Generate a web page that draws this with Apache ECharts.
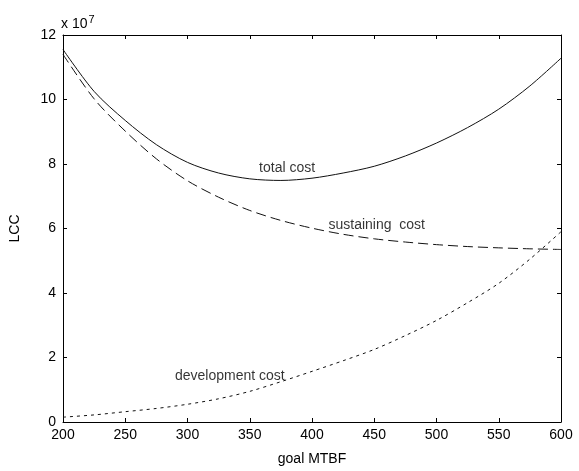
<!DOCTYPE html>
<html>
<head>
<meta charset="utf-8">
<script src="https://cdn.jsdelivr.net/npm/echarts@6/dist/echarts.min.js"></script>
<style>
  html, body { margin: 0; padding: 0; background: #fff; }
  #chart { width: 579px; height: 471px; }
</style>
</head>
<body>
<div id="chart"></div>
<script>
'use strict';

// goal MTBF values (x)
const mtbf = [200, 225, 250, 275, 300, 325, 350, 375, 400, 425, 450, 475, 500, 525, 550, 575, 600];
// LCC values, units of 1e7
const totalCost = [11.55, 10.25, 9.35, 8.6, 8.05, 7.72, 7.54, 7.49, 7.56, 7.72, 7.93, 8.25, 8.65, 9.13, 9.7, 10.42, 11.28];
const sustainingCost = [11.4, 10.02, 9.02, 8.16, 7.48, 6.97, 6.56, 6.25, 6.01, 5.82, 5.68, 5.58, 5.5, 5.44, 5.4, 5.37, 5.35];
const developmentCost = [0.15, 0.22, 0.32, 0.42, 0.55, 0.72, 0.95, 1.25, 1.57, 1.9, 2.25, 2.68, 3.15, 3.7, 4.3, 5.05, 5.9];

// curve labels placed in data coordinates
const curveLabels = [
    [380, 7.88, 'total cost'],
    [452, 6.09, 'sustaining  cost'],
    [334, 1.42, 'development cost']
];

const FONT = 'Liberation Sans, Arial, sans-serif';

function pairs(ys) {
    return mtbf.map((x, i) => [x, ys[i]]);
}

const chart = echarts.init(document.getElementById('chart'));

const baseX = {
    type: 'value',
    min: 200,
    max: 600,
    interval: 50,
    splitLine: { show: false },
    axisLine: { show: true, onZero: false, lineStyle: { color: '#000', width: 1 } },
    axisTick: { show: true, inside: true, length: 4, lineStyle: { color: '#000' } }
};
const baseY = {
    type: 'value',
    min: 0,
    max: 12,
    interval: 2,
    splitLine: { show: false },
    axisLine: { show: true, onZero: false, lineStyle: { color: '#000', width: 1 } },
    axisTick: { show: true, inside: true, length: 4, lineStyle: { color: '#000' } }
};

const option = {
    backgroundColor: '#fff',
    animation: false,
    grid: { left: 60, right: 18, top: 35, bottom: 40 },
    xAxis: [
        Object.assign({}, baseX, {
            position: 'bottom',
            name: 'goal MTBF',
            nameLocation: 'middle',
            nameGap: 30,
            nameTextStyle: { color: '#000', fontSize: 14, fontFamily: FONT },
            axisLabel: { color: '#000', fontSize: 14, fontFamily: FONT, margin: 6 }
        }),
        Object.assign({}, baseX, { position: 'top', axisLabel: { show: false } })
    ],
    yAxis: [
        Object.assign({}, baseY, {
            position: 'left',
            name: 'LCC',
            nameLocation: 'middle',
            nameGap: 41,
            nameTextStyle: { color: '#000', fontSize: 14, fontFamily: FONT },
            axisLabel: { color: '#000', fontSize: 14, fontFamily: FONT, margin: 7 }
        }),
        Object.assign({}, baseY, { position: 'right', axisLabel: { show: false } })
    ],
    graphic: [{
        type: 'text',
        left: 61,
        top: 14,
        style: {
            text: 'x 10{s|7}',
            fill: '#000',
            font: '14px ' + FONT,
            rich: { s: { fontSize: 11, fontFamily: FONT, verticalAlign: 'top', padding: [0, 0, 10, 1] } }
        }
    }],
    series: [
        {
            name: 'total cost',
            type: 'line',
            data: pairs(totalCost),
            smooth: 0.3,
            symbol: 'none',
            lineStyle: { color: '#111', width: 1 }
        },
        {
            name: 'sustaining cost',
            type: 'line',
            data: pairs(sustainingCost),
            smooth: 0.3,
            symbol: 'none',
            lineStyle: { color: '#111', width: 1, type: [10, 5] }
        },
        {
            name: 'development cost',
            type: 'line',
            data: pairs(developmentCost),
            smooth: 0.3,
            symbol: 'none',
            lineStyle: { color: '#111', width: 1, type: [3, 4] }
        },
        {
            name: 'labels',
            type: 'scatter',
            data: curveLabels,
            symbolSize: 1,
            itemStyle: { color: 'rgba(0,0,0,0)' },
            label: {
                show: true,
                position: 'inside',
                color: '#000',
                fontSize: 14,
                fontFamily: FONT,
                formatter: p => p.data[2]
            }
        }
    ]
};

chart.setOption(option);
</script>
</body>
</html>
